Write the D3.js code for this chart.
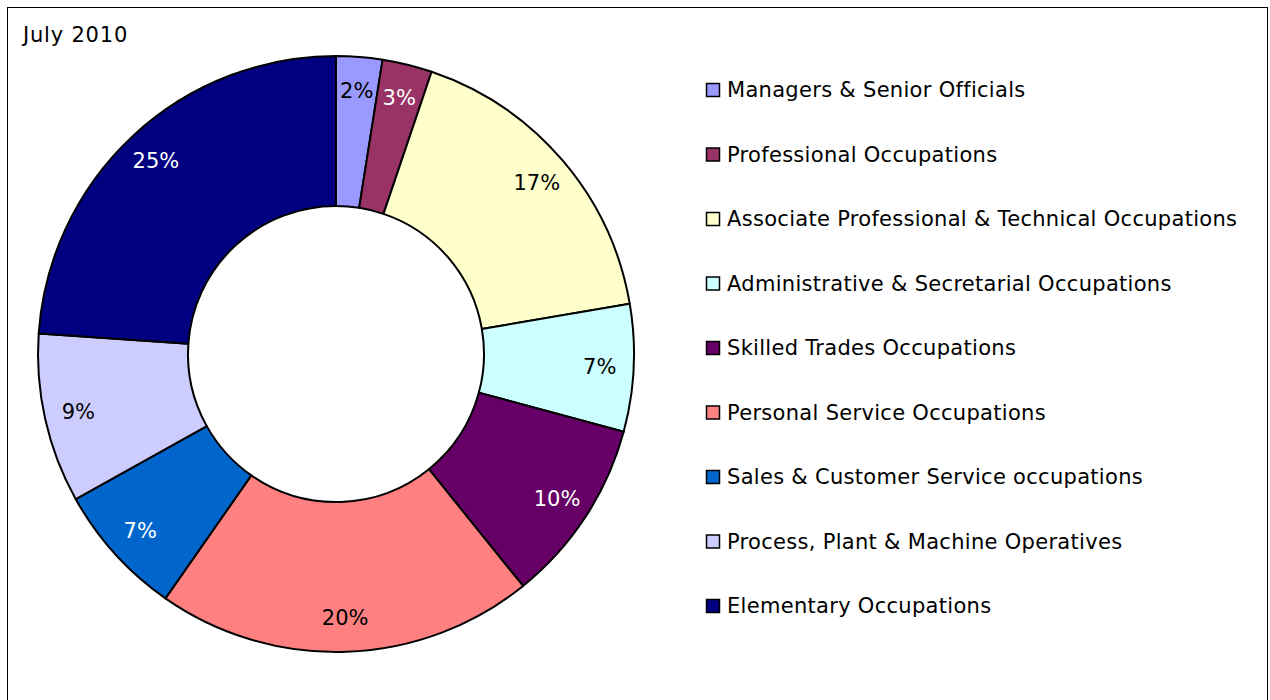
<!DOCTYPE html>
<html>
<head>
<meta charset="utf-8">
<script src="https://cdn.jsdelivr.net/npm/d3@7"></script>
<style>
  body { margin: 0; background: #fff; }
  svg { display: block; }
  text { font-family: "DejaVu Sans", Verdana, sans-serif; }
</style>
</head>
<body>
<div id="chart"></div>
<script>
const title = "July 2010"

const categories = [
    "Managers & Senior Officials",
    "Professional Occupations",
    "Associate Professional & Technical Occupations",
    "Administrative & Secretarial Occupations",
    "Skilled Trades Occupations",
    "Personal Service Occupations",
    "Sales & Customer Service occupations",
    "Process, Plant & Machine Operatives",
    "Elementary Occupations"
]

// shares
const values = [2.5, 2.7, 17.1, 6.9, 10.0, 20.5, 7.2, 9.2, 23.9]

// percentage labels as printed on the chart
const pctLabels = ["2%", "3%", "17%", "7%", "10%", "20%", "7%", "9%", "25%"]

const colors = ["#9999FF", "#993366", "#FFFFCC", "#CCFFFF", "#660066",
    "#FF8080", "#0066CC", "#CCCCFF", "#000080"]
const labelColors = ["#000", "#fff", "#000", "#000", "#fff",
    "#000", "#fff", "#000", "#fff"]

const width = 1270, height = 700,
    cx = 336, cy = 354,
    outer_r = 298, inner_r = 148, label_r = 264,
    font_size = "21px", letter_sp = "0.3px"

let svg = d3.select("#chart")
    .append("svg")
    .attr("width", width)
    .attr("height", height)

// chart frame
svg.append("rect")
    .attr("x", 7.5)
    .attr("y", 7.5)
    .attr("width", 1260)
    .attr("height", 720)
    .attr("fill", "none")
    .attr("stroke", "#000")
    .attr("stroke-width", 1)

svg.append("text")
    .attr("x", 23)
    .attr("y", 35)
    .attr("dy", "0.35em")
    .attr("font-size", font_size)
    .attr("letter-spacing", "0.8px")
    .attr("fill", "#000")
    .text(title)

let pie = d3.pie().sort(null).value(d => d)
let arcs = pie(values)

let arc = d3.arc().innerRadius(inner_r).outerRadius(outer_r)
let labelArc = d3.arc().innerRadius(label_r).outerRadius(label_r)

let g = svg.append("g")
    .attr("transform", "translate(" + cx + "," + cy + ")")

g.selectAll("path")
    .data(arcs)
    .enter()
    .append("path")
    .attr("d", arc)
    .attr("fill", (d, i) => colors[i])
    .attr("stroke", "#000")
    .attr("stroke-width", 2)
    .attr("stroke-linejoin", "round")

g.selectAll("text.pct")
    .data(arcs)
    .enter()
    .append("text")
    .attr("class", "pct")
    .attr("transform", d => "translate(" + labelArc.centroid(d) + ")")
    .attr("text-anchor", "middle")
    .attr("dy", "0.35em")
    .attr("font-size", font_size)
    .attr("fill", (d, i) => labelColors[i])
    .text((d, i) => pctLabels[i])

// legend
let legendY = d3.scalePoint()
    .domain(categories)
    .range([90, 606])

let legend = svg.append("g")
    .selectAll("g")
    .data(categories)
    .enter()
    .append("g")
    .attr("transform", d => "translate(706," + legendY(d) + ")")

legend.append("rect")
    .attr("x", 0.5)
    .attr("y", -6.5)
    .attr("width", 13)
    .attr("height", 13)
    .attr("fill", (d, i) => colors[i])
    .attr("stroke", "#000")
    .attr("stroke-width", 1.5)

legend.append("text")
    .attr("x", 21)
    .attr("y", 0)
    .attr("dy", "0.35em")
    .attr("font-size", font_size)
    .attr("letter-spacing", letter_sp)
    .attr("fill", "#000")
    .text(d => d)
</script>
</body>
</html>
